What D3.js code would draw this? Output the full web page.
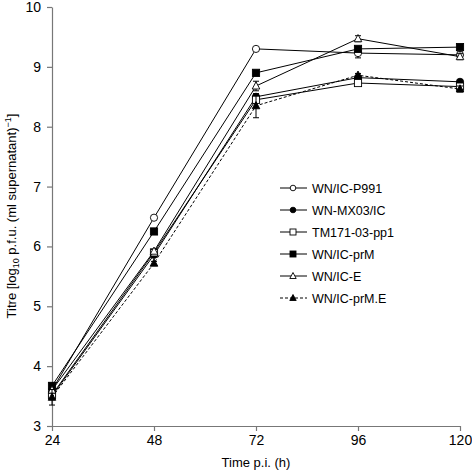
<!DOCTYPE html>
<html><head><meta charset="utf-8">
<script src="https://cdn.jsdelivr.net/npm/d3@7"></script>
<style>body{margin:0;background:#fff}svg{display:block}text{font-family:"Liberation Sans",Arial,sans-serif;fill:#000}</style>
</head><body><svg id="c" width="472" height="475"></svg>
<script>
const times = [24, 48, 72, 96, 120];
const seriesNames = ["WN/IC-P991","WN-MX03/IC","TM171-03-pp1","WN/IC-prM","WN/IC-E","WN/IC-prM.E"];
const valsP991 = [3.6, 6.48, 9.3, 9.23, 9.2];
const valsMX03 = [3.5, 5.86, 8.5, 8.82, 8.75];
const valsTM171 = [3.52, 5.9, 8.45, 8.73, 8.67];
const valsPrM = [3.67, 6.25, 8.9, 9.3, 9.33];
const valsE = [3.6, 5.92, 8.68, 9.47, 9.17];
const valsPrME = [3.48, 5.72, 8.35, 8.86, 8.63];
const errP991 = [0.05, 0.03, 0.02, 0.08, 0.05];
const errMX03 = [0.05, 0.03, 0.05, 0.03, 0.03];
const errTM171 = [0.08, 0.03, 0.05, 0.03, 0.03];
const errPrM = [0.05, 0.03, 0.03, 0.03, 0.03];
const errE = [0.05, 0.03, 0.08, 0.05, 0.05];
const errPrME = [0.13, 0.03, 0.2, 0.03, 0.05];
const yTicks = [3,4,5,6,7,8,9,10];

const markers = ["circleOpen","circleFilled","squareOpen","squareFilled","triOpen","triFilled"];
const dashes = [null,null,null,null,null,"3,2"];
const allVals = [valsP991,valsMX03,valsTM171,valsPrM,valsE,valsPrME];
const allErr = [errP991,errMX03,errTM171,errPrM,errE,errPrME];

const svg = d3.select("#c");
const x = d3.scaleLinear().domain([24,120]).range([52,460]);
const y = d3.scaleLinear().domain([3,10]).range([426,7]);

const xa = svg.append("g").attr("transform","translate(0,426)")
  .call(d3.axisBottom(x).tickValues(times).tickFormat(d3.format("d")).tickSize(5).tickSizeOuter(0).tickPadding(4));
const ya = svg.append("g").attr("transform","translate(52,0)")
  .call(d3.axisLeft(y).tickValues(yTicks).tickFormat(d3.format("d")).tickSize(5).tickSizeOuter(0).tickPadding(6));
[xa,ya].forEach(a=>{a.selectAll("path,line").attr("stroke","#777").attr("stroke-width",1.2);
  a.selectAll("text").attr("font-size",14).attr("font-family","Liberation Sans, Arial, sans-serif").attr("fill","#000");});

svg.append("text").attr("x",256).attr("y",467).attr("text-anchor","middle").attr("font-size",13).text("Time p.i. (h)");
const yl = svg.append("text").attr("transform","translate(16,216) rotate(-90)").attr("text-anchor","middle").attr("font-size",13);
yl.append("tspan").text("Titre [log");
yl.append("tspan").attr("font-size",9).attr("dy",3).text("10");
yl.append("tspan").attr("dy",-3).text(" p.f.u. (ml supernatant)");
yl.append("tspan").attr("font-size",9).attr("dy",-5).text("\u22121");
yl.append("tspan").attr("dy",5).text("]");

function drawMarker(g, type, cx, cy){
  const filled = type.endsWith("Filled");
  const fill = filled ? "#000" : "#fff";
  if(type.startsWith("circle")) g.append("circle").attr("cx",cx).attr("cy",cy).attr("r",3.6).attr("fill",fill).attr("stroke","#000").attr("stroke-width",0.9);
  else if(type.startsWith("square")) g.append("rect").attr("x",cx-3.6).attr("y",cy-3.6).attr("width",7.2).attr("height",7.2).attr("fill",fill).attr("stroke","#000").attr("stroke-width",0.9);
  else g.append("path").attr("d",`M${cx},${cy-4.2}L${cx+3.8},${cy+3}L${cx-3.8},${cy+3}Z`).attr("fill",fill).attr("stroke","#000").attr("stroke-width",0.9);
}

const line = d3.line().x(d=>x(d.t)).y(d=>y(d.v));
const plot = svg.append("g");
seriesNames.forEach((name,i)=>{
  const data = times.map((t,j)=>({t,v:allVals[i][j],e:allErr[i][j]}));
  const g = plot.append("g");
  g.append("path").datum(data).attr("d",line).attr("fill","none").attr("stroke","#000").attr("stroke-width",1)
    .attr("stroke-dasharray",dashes[i]);
  data.forEach(d=>{
    const cx=x(d.t);
    g.append("line").attr("x1",cx).attr("x2",cx).attr("y1",y(d.v-d.e)).attr("y2",y(d.v+d.e)).attr("stroke","#000").attr("stroke-width",1);
    [d.v-d.e,d.v+d.e].forEach(v=>g.append("line").attr("x1",cx-3).attr("x2",cx+3).attr("y1",y(v)).attr("y2",y(v)).attr("stroke","#000").attr("stroke-width",1));
  });
  data.forEach(d=>drawMarker(g,markers[i],x(d.t),y(d.v)));
});

const leg = svg.append("g");
seriesNames.forEach((name,i)=>{
  const ly = 188 + i*22;
  leg.append("line").attr("x1",280).attr("x2",307).attr("y1",ly).attr("y2",ly).attr("stroke","#000").attr("stroke-width",1).attr("stroke-dasharray",dashes[i]);
  const t = markers[i];
  const g = leg.append("g");
  if(t.startsWith("circle")) g.append("circle").attr("cx",293).attr("cy",ly).attr("r",2.8).attr("fill",t.endsWith("Filled")?"#000":"#fff").attr("stroke","#000").attr("stroke-width",0.9);
  else if(t.startsWith("square")) g.append("rect").attr("x",290).attr("y",ly-3).attr("width",6).attr("height",6).attr("fill",t.endsWith("Filled")?"#000":"#fff").attr("stroke","#000").attr("stroke-width",0.9);
  else g.append("path").attr("d",`M293,${ly-3.5}L296.2,${ly+2.5}L289.8,${ly+2.5}Z`).attr("fill",t.endsWith("Filled")?"#000":"#fff").attr("stroke","#000").attr("stroke-width",0.9);
  leg.append("text").attr("x",312).attr("y",ly+4.5).attr("font-size",12.5).text(name);
});
</script></body></html>
